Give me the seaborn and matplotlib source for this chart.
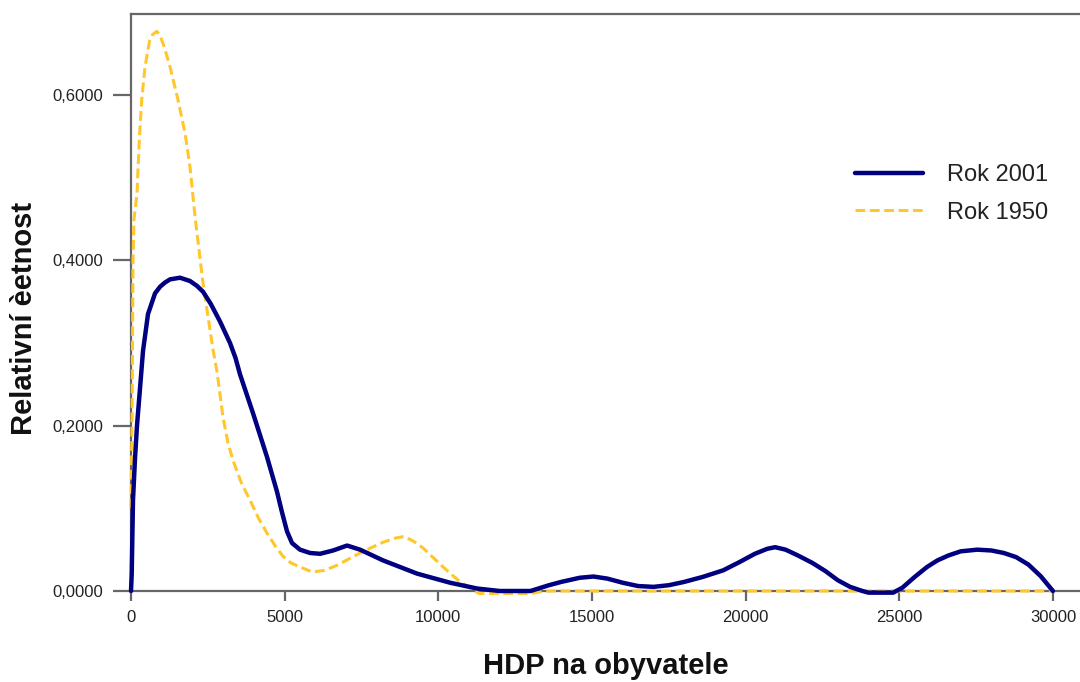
import matplotlib
matplotlib.use("Agg")
import matplotlib.pyplot as plt
import seaborn as sns
import pandas as pd

# ---- data ----
x_2001 = [0, 23, 65, 130, 195, 293, 390, 553, 781, 944, 1100, 1270, 1595, 1920,
          2150, 2344, 2600, 2897, 3222, 3400, 3548, 3971, 4427, 4752, 4915, 5078,
          5240, 5500, 5826, 6152, 6575, 7031, 7454, 8203, 9310, 10384, 11263,
          12000, 13000, 13600, 14000, 14600, 15050, 15500, 16000, 16500, 17000,
          17500, 18000, 18600, 19270, 19800, 20300, 20700, 20960, 21300, 21700,
          22170, 22600, 23000, 23400, 23800, 24000, 24800, 25100, 25500, 25900,
          26240, 26600, 27000, 27540, 28000, 28400, 28800, 29200, 29600, 30000]
y_2001 = [0.0, 0.02, 0.11, 0.16, 0.20, 0.245, 0.29, 0.335, 0.36, 0.368, 0.373,
          0.377, 0.379, 0.375, 0.369, 0.362, 0.347, 0.326, 0.30, 0.282, 0.262,
          0.215, 0.162, 0.12, 0.095, 0.072, 0.058, 0.050, 0.046, 0.045, 0.049,
          0.055, 0.050, 0.037, 0.021, 0.010, 0.003, 0.0, 0.0, 0.007, 0.011,
          0.016, 0.0175, 0.015, 0.010, 0.006, 0.005, 0.007, 0.011, 0.017, 0.025,
          0.035, 0.045, 0.051, 0.053, 0.050, 0.043, 0.034, 0.024, 0.013, 0.005,
          0.0, -0.002, -0.002, 0.004, 0.017, 0.029, 0.037, 0.043, 0.048, 0.050,
          0.049, 0.046, 0.041, 0.032, 0.018, 0.0]

x_1950 = [0, 33, 50, 65, 98, 195, 228, 277, 348, 456, 600, 700, 836, 950, 1100,
          1270, 1530, 1757, 1920, 2083, 2344, 2506, 2669, 2800, 2995, 3150, 3320,
          3600, 3873, 4150, 4427, 4700, 4947, 5200, 5500, 5900, 6300, 6700, 7100,
          7454, 7850, 8203, 8600, 8886, 9200, 9505, 10156, 10677, 11328, 13000,
          13500, 30000]
y_1950 = [0.10, 0.20, 0.30, 0.40, 0.45, 0.48, 0.51, 0.55, 0.594, 0.634, 0.665,
          0.673, 0.677, 0.672, 0.656, 0.634, 0.594, 0.554, 0.513, 0.453, 0.372,
          0.332, 0.292, 0.265, 0.21, 0.18, 0.158, 0.13, 0.11, 0.088, 0.07, 0.054,
          0.042, 0.034, 0.029, 0.023, 0.025, 0.031, 0.039, 0.046, 0.053, 0.059,
          0.064, 0.066, 0.060, 0.052, 0.029, 0.012, -0.003, -0.003, 0.0, 0.0]

series_names = ["Rok 2001", "Rok 1950"]
x_ticks = [0, 5000, 10000, 15000, 20000, 25000, 30000]
x_tick_labels = ["0", "5000", "10000", "15000", "20000", "25000", "30000"]
y_ticks = [0.0, 0.2, 0.4, 0.6]
y_tick_labels = ["0,0000", "0,2000", "0,4000", "0,6000"]
x_title = "HDP na obyvatele"
y_title = "Relativní èetnost"

df2001 = pd.DataFrame({"x": x_2001, "y": y_2001, "rok": series_names[0]})
df1950 = pd.DataFrame({"x": x_1950, "y": y_1950, "rok": series_names[1]})

sns.set_style("white")
plt.rcParams["font.family"] = ["Liberation Sans", "DejaVu Sans"]

fig = plt.figure(figsize=(10.8, 6.82), dpi=100)
ax = fig.add_axes([131 / 1080, (682 - 591) / 682, 1 - 131 / 1080, (591 - 14) / 682])

NAVY = "#000080"
GOLD = "#FFC72C"
GREY = "#666666"

sns.lineplot(data=df1950, x="x", y="y", ax=ax, sort=False, estimator=None,
             color=GOLD, linewidth=2.2, dashes=False, label=series_names[1],
             zorder=3)
sns.lineplot(data=df2001, x="x", y="y", ax=ax, sort=False, estimator=None,
             color=NAVY, linewidth=3.2, label=series_names[0], zorder=4)
lines = ax.get_lines()
lines[0].set_dashes((3.2, 1.5))
for ln in lines:
    ln.set_clip_on(False)
    ln.set_solid_joinstyle("round")
    ln.set_dash_joinstyle("round")

ax.set_xlim(0, 30880)
ax.set_ylim(0, 0.698)
ax.set_xticks(x_ticks)
ax.set_xticklabels(x_tick_labels)
ax.set_yticks(y_ticks)
ax.set_yticklabels(y_tick_labels)

ax.tick_params(axis="y", length=13, width=1.6, color=GREY, pad=7,
               labelsize=12, labelcolor="#222222", left=True, direction="out")
ax.tick_params(axis="x", length=7, width=1.6, color=GREY, pad=7,
               labelsize=12, labelcolor="#222222", bottom=True, direction="out")

for side in ["left", "top", "bottom"]:
    ax.spines[side].set_visible(True)
    ax.spines[side].set_color(GREY)
    ax.spines[side].set_linewidth(1.6)
ax.spines["right"].set_visible(False)

ax.set_xlabel(x_title, fontsize=21, fontweight="bold", color="#111111")
ax.set_ylabel(y_title, fontsize=21, fontweight="bold", color="#111111")
ax.xaxis.set_label_coords(0.5, -0.106)
ax.yaxis.set_label_coords(-0.098, 0.473)

handles, labels = ax.get_legend_handles_labels()
order = [labels.index(n) for n in series_names]
leg = ax.legend([handles[i] for i in order], [labels[i] for i in order],
                loc="center left", bbox_to_anchor=(855 / 1080, 1 - 194 / 682),
                bbox_transform=fig.transFigure, frameon=False, fontsize=17,
                handlelength=2.9, handletextpad=1.0, labelspacing=0.64,
                borderpad=0, borderaxespad=0)
for t in leg.get_texts():
    t.set_color("#222222")

fig.savefig("out.png", dpi=100)
